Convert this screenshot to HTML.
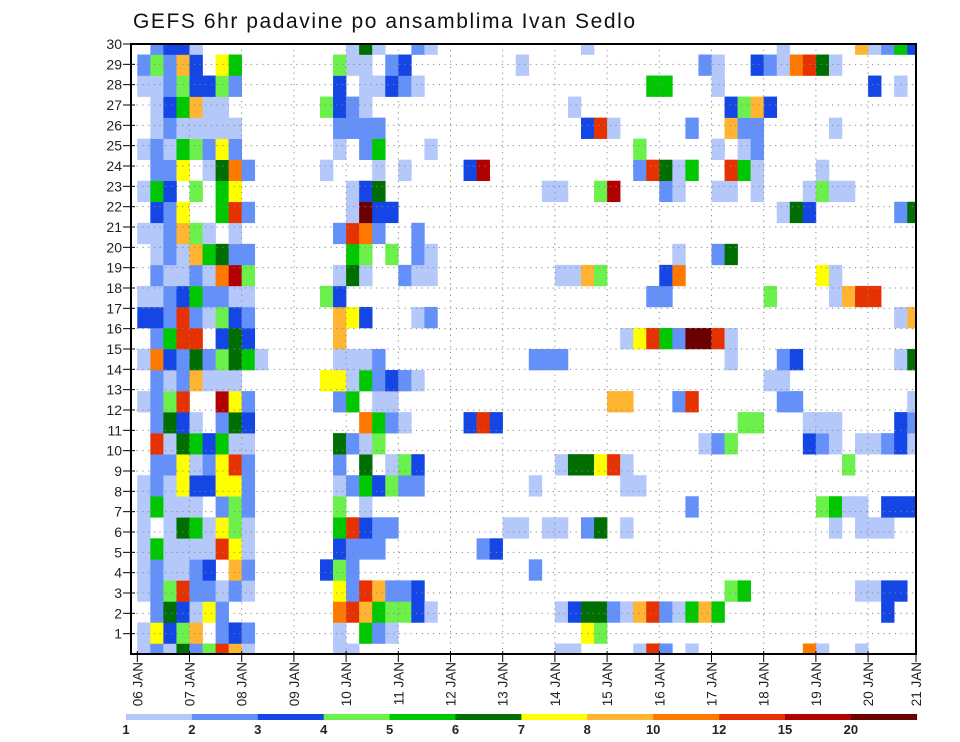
<!DOCTYPE html>
<html><head><meta charset="utf-8"><title>GEFS 6hr padavine</title>
<style>
html,body{margin:0;padding:0;background:#fff;}
svg{display:block;font-family:"Liberation Sans",sans-serif;}
</style></head>
<body>
<svg id="chart" width="960" height="742" viewBox="0 0 960 742" xmlns="http://www.w3.org/2000/svg">
<text x="133" y="28" font-size="21" fill="#111" textLength="502">GEFS 6hr padavine po ansamblima Ivan Sedlo</text>
<g id="cells"></g>
<g id="grid"></g>
<g id="axes"></g>
<g id="legend"></g>
</svg>
<script>
// Day tick labels (x axis)
const dayLabels = ["06 JAN","07 JAN","08 JAN","09 JAN","10 JAN","11 JAN","12 JAN","13 JAN","14 JAN","15 JAN","16 JAN","17 JAN","18 JAN","19 JAN","20 JAN","21 JAN"];
// Member tick labels (y axis)
const memberTicks = [1,2,3,4,5,6,7,8,9,10,11,12,13,14,15,16,17,18,19,20,21,22,23,24,25,26,27,28,29,30];
// Legend thresholds (mm)
const levels = [1,2,3,4,5,6,7,8,10,12,15,20];
const levelColors = ["#b4c8fa","#6490fa","#1446e6","#6cf04c","#00c800","#006e00","#ffff00","#ffb432","#ff7800","#e63200","#b00000","#6a0000"];
// Precipitation per member (row j = 0 bottom .. 29 top): "column:mm" for 6-hr steps (col 0 = 06 JAN 00Z)
const member00 = "0:1.5 1:2.5 2:1.5 3:6.5 4:2.5 5:4.5 6:13.5 7:9 8:1.5 15:1.5 16:1.5 32:1.5 33:1.5 38:1.5 39:13.5 40:2.5 42:1.5 51:11 52:1.5 55:1.5";
const member01 = "0:1.5 1:7.5 2:3.5 3:4.5 4:9 6:2.5 7:3.5 8:2.5 15:1.5 17:5.5 18:2.5 19:1.5 34:7.5 35:4.5";
const member02 = "1:2.5 2:6.5 3:3.5 4:1.5 5:7.5 6:2.5 15:11 16:13.5 17:9 18:5.5 19:4.5 20:4.5 21:3.5 22:1.5 32:1.5 33:3.5 34:6.5 35:6.5 36:2.5 37:1.5 38:9 39:13.5 40:2.5 41:1.5 42:5.5 43:9 44:5.5 57:3.5";
const member03 = "0:1.5 1:2.5 2:4.5 3:13.5 4:2.5 5:2.5 6:1.5 7:2.5 8:1.5 15:7.5 16:2.5 17:13.5 18:9 19:2.5 20:2.5 21:3.5 45:4.5 46:5.5 55:1.5 56:1.5 57:3.5 58:3.5";
const member04 = "0:1.5 1:2.5 2:1.5 3:1.5 4:2.5 5:3.5 7:9 8:2.5 14:3.5 15:4.5 16:2.5 30:2.5";
const member05 = "0:1.5 1:5.5 2:1.5 3:1.5 4:1.5 5:1.5 6:13.5 7:7.5 8:1.5 15:3.5 16:2.5 17:2.5 18:2.5 26:2.5 27:3.5";
const member06 = "0:1.5 2:1.5 3:6.5 4:5.5 5:1.5 6:7.5 7:4.5 8:1.5 15:5.5 16:13.5 17:3.5 18:2.5 19:2.5 28:1.5 29:1.5 31:1.5 32:1.5 34:2.5 35:6.5 37:1.5 53:1.5 55:1.5 56:1.5 57:1.5";
const member07 = "0:1.5 1:5.5 2:1.5 3:1.5 4:1.5 6:2.5 7:4.5 8:2.5 15:4.5 17:1.5 42:2.5 52:4.5 53:5.5 54:1.5 55:1.5 57:3.5 58:3.5 59:3.5";
const member08 = "0:1.5 1:2.5 2:1.5 3:7.5 4:3.5 5:3.5 6:7.5 7:7.5 8:2.5 15:1.5 16:2.5 17:5.5 18:3.5 19:4.5 20:2.5 21:2.5 30:1.5 37:1.5 38:1.5";
const member09 = "1:2.5 2:2.5 3:7.5 4:1.5 5:2.5 6:7.5 7:13.5 8:2.5 15:2.5 17:6.5 19:1.5 20:4.5 21:3.5 32:1.5 33:6.5 34:6.5 35:7.5 36:13.5 37:1.5 54:4.5";
const member10 = "1:13.5 2:1.5 3:6.5 4:5.5 5:3.5 6:5.5 7:1.5 8:1.5 15:6.5 16:2.5 17:1.5 18:4.5 43:1.5 44:2.5 45:4.5 51:3.5 52:2.5 53:1.5 55:1.5 56:1.5 57:2.5 58:3.5 59:1.5";
const member11 = "1:2.5 2:6.5 3:3.5 4:1.5 6:2.5 7:6.5 8:3.5 17:11 18:5.5 19:2.5 20:1.5 25:3.5 26:13.5 27:3.5 46:4.5 47:4.5 51:1.5 52:1.5 53:1.5 58:3.5 59:2.5";
const member12 = "0:1.5 1:2.5 2:4.5 3:13.5 6:17.5 7:7.5 8:2.5 15:2.5 16:5.5 18:1.5 19:1.5 36:9 37:9 41:2.5 42:13.5 49:2.5 50:2.5 59:1.5";
const member13 = "1:2.5 2:1.5 3:2.5 4:9 5:1.5 6:1.5 7:1.5 14:7.5 15:7.5 16:1.5 17:5.5 18:2.5 19:3.5 20:2.5 21:1.5 48:1.5 49:1.5";
const member14 = "0:1.5 1:11 2:3.5 3:2.5 4:6.5 5:2.5 6:4.5 7:6.5 8:5.5 9:1.5 15:1.5 16:1.5 17:1.5 18:2.5 30:2.5 31:2.5 32:2.5 45:1.5 49:2.5 50:3.5 58:1.5 59:6.5";
const member15 = "1:2.5 2:5.5 3:13.5 4:13.5 6:3.5 7:6.5 8:3.5 15:9 37:1.5 38:7.5 39:13.5 40:5.5 41:2.5 42:22 43:22 44:13.5 45:1.5";
const member16 = "0:3.5 1:3.5 2:2.5 3:13.5 4:2.5 5:1.5 6:4.5 7:3.5 8:2.5 15:9 16:7.5 17:3.5 21:1.5 22:2.5 58:1.5 59:9";
const member17 = "0:1.5 1:1.5 2:2.5 3:3.5 4:5.5 5:2.5 6:2.5 7:1.5 8:1.5 14:4.5 15:3.5 39:2.5 40:2.5 48:4.5 53:1.5 54:9 55:13.5 56:13.5";
const member18 = "1:2.5 2:1.5 3:1.5 4:2.5 5:1.5 6:11 7:17.5 8:4.5 15:1.5 16:6.5 17:1.5 20:2.5 21:1.5 22:1.5 32:1.5 33:1.5 34:9 35:4.5 40:3.5 41:11 52:7.5 53:1.5";
const member19 = "1:1.5 2:2.5 3:1.5 4:9 5:5.5 6:6.5 7:2.5 8:2.5 16:5.5 17:4.5 19:4.5 21:2.5 22:1.5 41:1.5 44:2.5 45:6.5";
const member20 = "0:1.5 1:1.5 2:2.5 3:9 4:4.5 5:1.5 7:1.5 15:2.5 16:13.5 17:11 18:2.5 21:2.5";
const member21 = "1:3.5 2:2.5 3:7.5 6:5.5 7:13.5 8:2.5 16:1.5 17:22 18:3.5 19:3.5 49:1.5 50:6.5 51:3.5 58:2.5 59:6.5";
const member22 = "0:1.5 1:5.5 2:3.5 4:4.5 6:5.5 7:7.5 16:1.5 17:3.5 18:6.5 31:1.5 32:1.5 35:4.5 36:17.5 40:2.5 41:1.5 44:1.5 45:1.5 47:1.5 51:1.5 52:4.5 53:1.5 54:1.5";
const member23 = "1:2.5 2:2.5 3:7.5 5:1.5 6:6.5 7:11 8:2.5 14:1.5 18:1.5 20:1.5 25:3.5 26:17.5 38:2.5 39:13.5 40:6.5 41:1.5 42:5.5 45:13.5 46:5.5 47:1.5 52:1.5";
const member24 = "0:1.5 1:2.5 2:1.5 3:5.5 4:4.5 5:2.5 6:7.5 7:2.5 15:1.5 17:2.5 18:5.5 22:1.5 38:4.5 44:1.5 46:1.5 47:2.5";
const member25 = "1:1.5 2:2.5 3:1.5 4:1.5 5:1.5 6:1.5 7:1.5 15:2.5 16:2.5 17:2.5 18:2.5 34:3.5 35:13.5 36:1.5 42:2.5 45:9 46:2.5 47:2.5 53:1.5";
const member26 = "1:1.5 2:3.5 3:5.5 4:9 5:1.5 6:1.5 14:4.5 15:3.5 16:2.5 17:1.5 33:1.5 45:3.5 46:4.5 47:9 48:3.5";
const member27 = "0:1.5 1:1.5 2:2.5 3:4.5 4:3.5 5:3.5 6:4.5 7:2.5 15:3.5 17:1.5 18:1.5 19:3.5 20:2.5 21:1.5 39:5.5 40:5.5 44:1.5 56:3.5 58:1.5";
const member28 = "0:2.5 1:4.5 2:2.5 3:9 4:3.5 6:7.5 7:5.5 15:4.5 16:1.5 17:1.5 19:2.5 20:3.5 29:1.5 43:2.5 44:1.5 47:3.5 48:2.5 49:1.5 50:11 51:13.5 52:6.5 53:1.5";
const member29 = "1:2.5 2:3.5 3:3.5 4:1.5 16:1.5 17:6.5 18:1.5 21:2.5 22:1.5 34:1.5 49:1.5 55:9 56:1.5 57:2.5 58:5.5 59:3.5";
const members = [member00,member01,member02,member03,member04,member05,member06,member07,member08,member09,member10,member11,member12,member13,member14,member15,member16,member17,member18,member19,member20,member21,member22,member23,member24,member25,member26,member27,member28,member29];

const NS = "http://www.w3.org/2000/svg";
const PL = 131, PR = 916, PT = 44, PB = 654;
const X0 = 137.3, CELL = 13.05, DAY = 52.2;
const ROWH = (PB - PT) / 29;
const TICKH = (PB - PT) / 30;
function xCol(c) { return X0 + CELL * c; }
function xDay(d) { return Math.min(X0 + DAY * d, PR); }
function yRow(j) { return PB - ROWH * j; }
function yTick(k) { return PB - TICKH * k; }
function colorFor(v) {
  let idx = -1;
  for (let i = 0; i < levels.length; i++) if (v >= levels[i]) idx = i;
  return idx < 0 ? null : levelColors[idx];
}
function mk(tag, attrs, parent) {
  const e = document.createElementNS(NS, tag);
  for (const k in attrs) e.setAttribute(k, attrs[k]);
  parent.appendChild(e);
  return e;
}
const cells = document.getElementById('cells');
members.forEach(function (row, j) {
  if (!row) return;
  row.trim().split(/\s+/).forEach(function (tok) {
    const p = tok.split(':');
    const c = +p[0], v = +p[1];
    const col = colorFor(v);
    if (!col) return;
    let x1 = xCol(c), x2 = xCol(c + 1);
    let y1 = yRow(j) - ROWH / 2, y2 = yRow(j) + ROWH / 2;
    x1 = Math.max(x1, PL); x2 = Math.min(x2, PR);
    y1 = Math.max(y1, PT); y2 = Math.min(y2, PB);
    if (x2 <= x1 || y2 <= y1) return;
    const r = mk('rect', {x: x1.toFixed(2), y: y1.toFixed(2), width: (x2 - x1 + 0.3).toFixed(2), height: (y2 - y1 + 0.3).toFixed(2), fill: col}, cells);
    
    
  });
});
const grid = document.getElementById('grid');
for (let d = 1; d < dayLabels.length - 1; d++) {
  const l = mk('line', {x1: xDay(d), x2: xDay(d), y1: PT, y2: PB, stroke: '#888', 'stroke-width': 1, 'stroke-dasharray': '1.2,4.5'}, grid);
  
  
}
memberTicks.forEach(function (k) {
  if (k >= 30) return;
  const l = mk('line', {x1: PL, x2: PR, y1: yTick(k), y2: yTick(k), stroke: '#888', 'stroke-width': 1, 'stroke-dasharray': '1.2,4.5'}, grid);
  
  
});
const axes = document.getElementById('axes');
const frame = mk('rect', {x: PL, y: PT, width: PR - PL, height: PB - PT, fill: 'none', stroke: '#000', 'stroke-width': 2}, axes);


memberTicks.forEach(function (k) {
  const y = yTick(k);
  const t = mk('line', {x1: PL - 8, x2: PL + 4, y1: y, y2: y, stroke: '#000', 'stroke-width': 1}, axes);
  
  
  const lb = mk('text', {x: PL - 9, y: y + 5, 'font-size': 14, 'text-anchor': 'end', fill: '#222'}, axes);
  lb.textContent = k;
  
  
});
dayLabels.forEach(function (s, d) {
  const x = xDay(d);
  const t = mk('line', {x1: x, x2: x, y1: PB - 3, y2: PB + 8, stroke: '#000', 'stroke-width': 1}, axes);
  
  
  const lb = mk('text', {x: 0, y: 0, 'font-size': 13.5, 'text-anchor': 'end', fill: '#222', transform: 'translate(' + (x + 5) + ',' + (PB + 8) + ') rotate(-90)'}, axes);
  lb.textContent = s;
  
  
});
const legend = document.getElementById('legend');
const LX = 126, LW = 65.9, LY = 714, LH = 6;
levels.forEach(function (lv, i) {
  const r = mk('rect', {x: LX + LW * i, y: LY, width: LW + 0.3, height: LH, fill: levelColors[i]}, legend);
  
  
  const t = mk('text', {x: LX + LW * i, y: 734, 'font-size': 13, 'font-weight': 'bold', 'text-anchor': 'middle', fill: '#222'}, legend);
  t.textContent = lv;
  
  
});
</script>
</body></html>
